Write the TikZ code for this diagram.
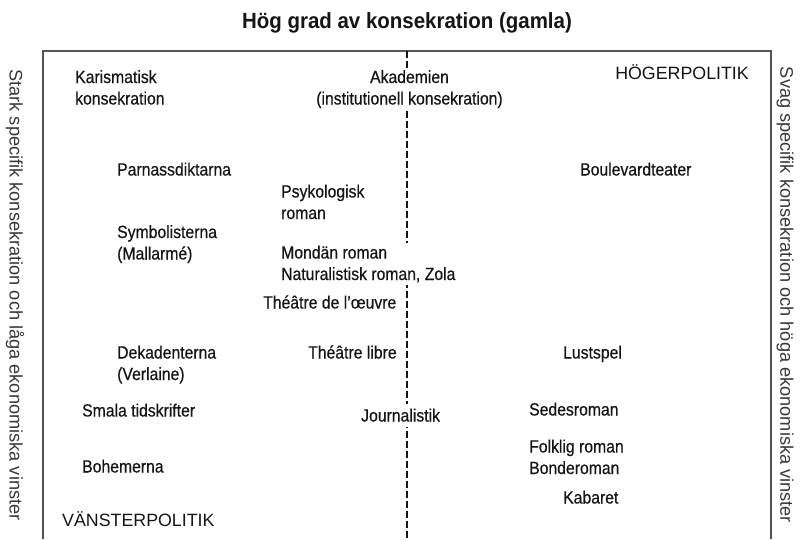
\documentclass[tikz,border=0pt]{standalone}
\usepackage{fontspec}
\setmainfont{Liberation Sans}
\newfontfamily\condf{Liberation Sans}[FakeStretch=0.89, FakeBold=0.5]
\newfontfamily\titlef{Liberation Sans}[FakeStretch=0.93]
\definecolor{ink}{HTML}{151515}
\definecolor{frame}{HTML}{555555}
\begin{document}
\begin{tikzpicture}[x=1pt,y=-1pt,
  lbl/.style={font=\condf\fontsize{17.7}{21.5}\selectfont, text=ink, inner sep=0pt, align=left, anchor=base west},
  clbl/.style={lbl, align=center, anchor=base},
  pol/.style={font=\fontsize{17.8}{21}\selectfont, text=ink, inner sep=0pt},
  side/.style={font=\fontsize{18.2}{22}\selectfont, text=ink!85, rotate=-90, inner sep=0pt},
  gapfill/.style={fill=white, inner sep=2.5pt},
  frameline/.style={draw=frame, line width=1.2pt},
  divider/.style={draw=ink, line width=2pt, dash pattern=on 6.5pt off 3.5pt}]
\useasboundingbox (0,0) rectangle (809,539);

% title
\node[font=\titlef\bfseries\fontsize{22}{26}\selectfont, text=ink, anchor=base, inner sep=0pt] (title) at (407,28) {Hög grad av konsekration (gamla)};

% frame (open at the bottom)
\coordinate (bl) at (43,539);
\coordinate (tl) at (43,51);
\coordinate (tr) at (771,51);
\coordinate (br) at (771,539);
\draw[frameline] (bl) -- (tl) -- (tr) -- (br);

% dashed divider
\coordinate (dtop) at (407,51);
\coordinate (dbot) at (407,539);
\draw[divider] (dtop) -- (dbot);

% side labels
\node[side] (left) at (15,295) {Stark specifik konsekration och låga ekonomiska vinster};
\node[side] (right) at (785,295) {Svag specifik konsekration och höga ekonomiska vinster};

% left column (base = baseline of the last line)
\node[lbl] (karis) at (75,104.5) {Karismatisk\\konsekration};
\node[lbl] (parn) at (117,175.5) {Parnassdiktarna};
\node[lbl] (symb) at (117,259.5) {Symbolisterna\\(Mallarmé)};
\node[lbl] (deka) at (117,380) {Dekadenterna\\(Verlaine)};
\node[lbl] (smala) at (82,416.5) {Smala tidskrifter};
\node[lbl] (bohem) at (82,472.5) {Bohemerna};
\node[pol, anchor=base west] (vanster) at (62,526.5) {VÄNSTERPOLITIK};

% centre column
\node[clbl, gapfill] (akad) at (409.5,104.5) {Akademien\\(institutionell konsekration)};
\node[lbl] (psyk) at (281,219) {Psykologisk\\roman};
\node[lbl, gapfill, anchor=base west] (mondan) at (278.5,280) {Mondän roman\\Naturalistisk roman, Zola};
\node[lbl] (oeuvre) at (263,308.5) {Théâtre de l’œuvre};
\node[lbl] (libre) at (308,358.5) {Théâtre libre};
\node[lbl, fill=white, inner xsep=0pt, inner ysep=5pt] (journ) at (361,421.5) {Journalistik};

% right column
\node[pol, anchor=base east] (hoger) at (749,79) {HÖGERPOLITIK};
\node[lbl] (boul) at (580,175.5) {Boulevardteater};
\node[lbl] (lust) at (563,358.5) {Lustspel};
\node[lbl] (sedes) at (529,415.5) {Sedesroman};
\node[lbl] (folk) at (529,474) {Folklig roman\\Bonderoman};
\node[lbl] (kab) at (563,503.5) {Kabaret};
\end{tikzpicture}
\end{document}
